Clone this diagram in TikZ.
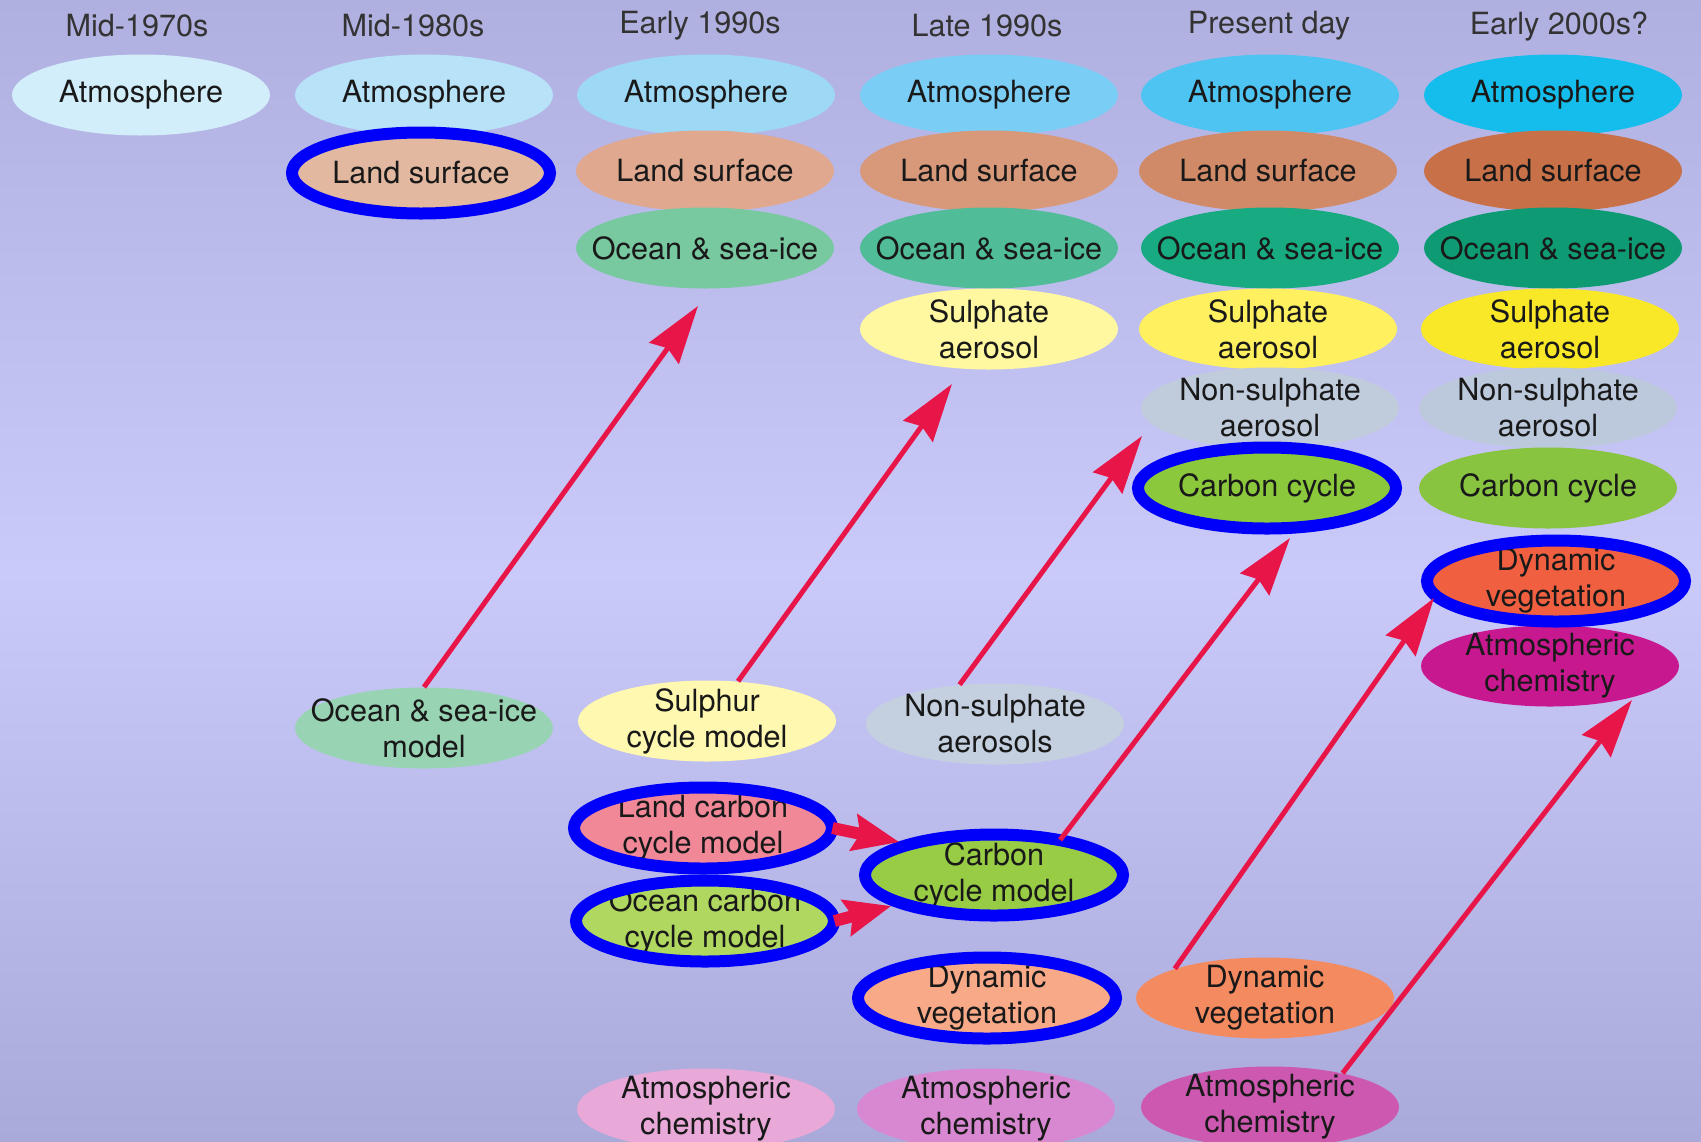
\documentclass[tikz,border=0pt]{standalone}
\usepackage{fontspec}
\setmainfont{TeX Gyre Heros}
\usetikzlibrary{shapes.geometric,arrows.meta}

\definecolor{bgtop}{RGB}{176,176,224}
\definecolor{bgmid}{RGB}{202,202,250}
\definecolor{bgbot}{RGB}{170,170,218}
\definecolor{ringblue}{RGB}{0,0,250}
\definecolor{arrowred}{RGB}{232,22,72}
\definecolor{atmA}{RGB}{210,238,250}
\definecolor{atmB}{RGB}{184,226,248}
\definecolor{atmC}{RGB}{157,216,245}
\definecolor{atmD}{RGB}{122,205,245}
\definecolor{atmE}{RGB}{78,196,242}
\definecolor{atmF}{RGB}{20,189,235}
\definecolor{landA}{RGB}{226,184,160}
\definecolor{landB}{RGB}{224,168,142}
\definecolor{landC}{RGB}{216,152,122}
\definecolor{landD}{RGB}{208,138,104}
\definecolor{landE}{RGB}{200,112,72}
\definecolor{oceanA}{RGB}{120,200,160}
\definecolor{oceanB}{RGB}{80,188,152}
\definecolor{oceanC}{RGB}{24,170,128}
\definecolor{oceanD}{RGB}{14,154,114}
\definecolor{sulphA}{RGB}{255,248,160}
\definecolor{sulphB}{RGB}{255,240,96}
\definecolor{sulphC}{RGB}{248,232,40}
\definecolor{nonsulA}{RGB}{192,204,220}
\definecolor{nonsulB}{RGB}{188,200,220}
\definecolor{carbonA}{RGB}{140,200,60}
\definecolor{carbonB}{RGB}{136,196,64}
\definecolor{dynvegA}{RGB}{248,170,136}
\definecolor{dynvegB}{RGB}{244,138,96}
\definecolor{dynvegC}{RGB}{240,96,64}
\definecolor{chemA}{RGB}{232,168,216}
\definecolor{chemB}{RGB}{216,136,208}
\definecolor{chemC}{RGB}{204,88,176}
\definecolor{chemD}{RGB}{200,24,144}
\definecolor{oceanM}{RGB}{152,212,180}
\definecolor{sulphM}{RGB}{255,248,176}
\definecolor{nonsulM}{RGB}{196,208,224}
\definecolor{lcarbM}{RGB}{240,136,152}
\definecolor{ocarbM}{RGB}{176,216,96}
\definecolor{ccarbM}{RGB}{152,204,68}

\begin{document}
\begin{tikzpicture}
[x=0.5pt,y=-0.5pt,
  nodedecorate/.style={shape=ellipse,fill=#1,minimum width=129pt,
    minimum height=40.5pt,inner xsep=-30pt,inner ysep=-6pt,align=center,
    text=black!90,font=\fontsize{15.3}{18}\selectfont},
  titledecorate/.style={text=black!80,font=\fontsize{15.3}{18}\selectfont},
  ringdecorate/.style={draw=ringblue,line width=6pt},
  linedecorate/.style={draw=arrowred,line width=2.5pt,
    -{Stealth[length=29pt,width=18pt,inset=3pt]}},
  fatdecorate/.style={draw=arrowred,line width=6pt,
    -{Stealth[length=23pt,width=18pt,inset=3pt]}}]
%% background
\shade[top color=bgtop,bottom color=bgbot,middle color=bgmid]
  (0,0) rectangle (1701,1141);
\useasboundingbox (0,0) rectangle (1701,1141);
%% column titles
\foreach \nodename/\nodelabel/\x in {ti1/Mid-1970s/137, ti2/Mid-1980s/413,
  ti3/Early 1990s/700, ti4/Late 1990s/987, ti5/Present day/1269,
  ti6/Early 2000s?/1559} {
  \node (\nodename) at (\x,26) [titledecorate] {\nodelabel};
}
%% model components
\foreach \nodename/\nodelabel/\x/\y/\tint in {
  atm1/Atmosphere/141/95/atmA,
  atm2/Atmosphere/424/95/atmB, land2/Land surface/421/173/landA,
  atm3/Atmosphere/706/95/atmC, land3/Land surface/705/171/landB,
  ocean3/Ocean \& sea-ice/705/248/oceanA,
  atm4/Atmosphere/989/95/atmD, land4/Land surface/989/171/landC,
  ocean4/Ocean \& sea-ice/989/248/oceanB,
  sulph4/{Sulphate\\aerosol}/989/329/sulphA,
  atm5/Atmosphere/1270/95/atmE, land5/Land surface/1268/171/landD,
  ocean5/Ocean \& sea-ice/1270/248/oceanC,
  sulph5/{Sulphate\\aerosol}/1268/329/sulphB,
  nonsul5/{Non-sulphate\\aerosol}/1270/408/nonsulA,
  carbon5/Carbon cycle/1267/488/carbonA,
  atm6/Atmosphere/1553/95/atmF, land6/Land surface/1553/171/landE,
  ocean6/Ocean \& sea-ice/1553/248/oceanD,
  sulph6/{Sulphate\\aerosol}/1550/329/sulphC,
  nonsul6/{Non-sulphate\\aerosol}/1548/408/nonsulB,
  carbon6/Carbon cycle/1548/488/carbonB,
  dynveg6/{Dynamic\\vegetation}/1556/581/dynvegC,
  atmchem6/{Atmospheric\\chemistry}/1550/666/chemD,
  ocnmod/{Ocean \& sea-ice\\model}/424/728/oceanM,
  sulmod/{Sulphur\\cycle model}/707/721/sulphM,
  nsaer/{Non-sulphate\\aerosols}/995/724/nonsulM,
  lcarb/{Land carbon\\cycle model}/703/828/lcarbM,
  ocarb/{Ocean carbon\\cycle model}/705/921/ocarbM,
  ccmod/{Carbon\\cycle model}/994/875/ccarbM,
  dynveg4/{Dynamic\\vegetation}/987/998/dynvegA,
  dynveg5/{Dynamic\\vegetation}/1265/998/dynvegB,
  atmchem3/{Atmospheric\\chemistry}/706/1109/chemA,
  atmchem4/{Atmospheric\\chemistry}/986/1109/chemB,
  atmchem5/{Atmospheric\\chemistry}/1270/1107/chemC} {
  \node (\nodename) at (\x,\y) [nodedecorate=\tint] {\nodelabel};
}
%% new components ringed
\foreach \nodename in {land2, carbon5, dynveg6, lcarb, ocarb, ccmod, dynveg4}
  \draw[ringdecorate] (\nodename.center) ellipse [x radius=64.5pt, y radius=20.25pt];
%% arrows
\coordinate (tip1) at (698,306);
\coordinate (tip2) at (952,384);
\coordinate (tip3) at (1142,436);
\coordinate (tip4) at (1290,538);
\coordinate (tip5) at (1434,598);
\coordinate (tip6) at (1632,700);
\draw[linedecorate] (ocnmod.north) -- (tip1);
\draw[linedecorate] (sulmod.52) -- (tip2);
\draw[linedecorate] (nsaer.132) -- (tip3);
\draw[linedecorate] (ccmod.28) -- (tip4);
\draw[linedecorate] (dynveg5.162) -- (tip5);
\draw[linedecorate] (atmchem5.25) -- (tip6);
\draw[fatdecorate,shorten >=5pt] (lcarb.east) -- (ccmod.160);
\draw[fatdecorate,shorten >=5pt] (ocarb.east) -- (ccmod.197);
\end{tikzpicture}
\end{document}
